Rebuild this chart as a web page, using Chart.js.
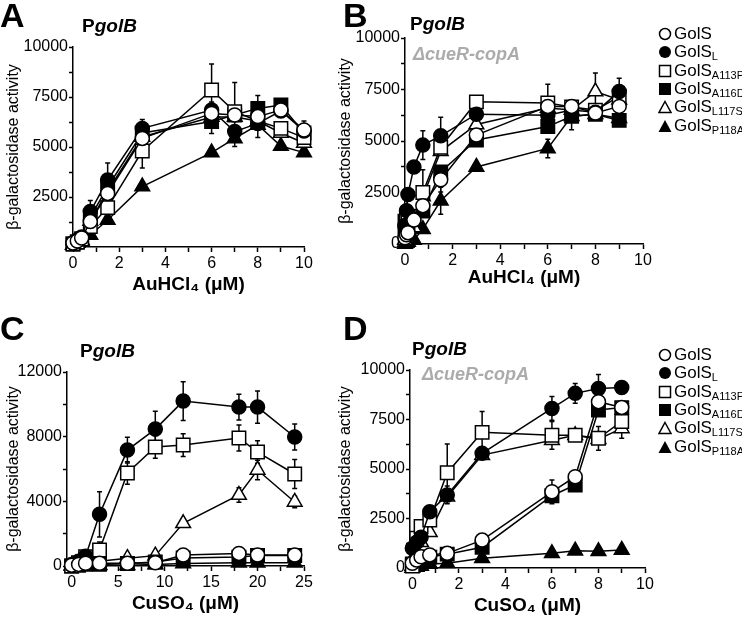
<!DOCTYPE html>
<html>
<head>
<meta charset="utf-8">
<script src="https://cdn.jsdelivr.net/npm/chart.js@4.4.1/dist/chart.umd.min.js"></script>
<style>
    body { margin: 0; background: #fff; width: 742px; height: 620px; position: relative; overflow: hidden;
        font-family: "Liberation Sans", Arial, sans-serif; color: #000; }
    canvas { position: absolute; }
    .letter { position: absolute; font-weight: bold; font-size: 34px; line-height: 1; }
    .prom { position: absolute; font-weight: bold; font-size: 19px; line-height: 1; }
    .strain { position: absolute; font-weight: bold; font-style: italic; font-size: 18px; line-height: 1; color: #ababab; }
    .row { position: absolute; left: 658px; height: 18px; line-height: 18px; font-size: 17px; white-space: nowrap; }
    .row svg { position: absolute; left: 0; top: 2px; }
    .row span { position: absolute; left: 16px; }
    .row sub { font-size: 11px; vertical-align: -3px; line-height: 0; }
</style>
</head>
<body>
<canvas id="chartA" width="330" height="300" style="left:0;top:0"></canvas>
<canvas id="chartB" width="330" height="300" style="left:332px;top:0"></canvas>
<canvas id="chartC" width="330" height="310" style="left:0;top:310px"></canvas>
<canvas id="chartD" width="330" height="310" style="left:332px;top:310px"></canvas>

<div class="letter" style="left:0;top:-2px">A</div>
<div class="letter" style="left:343px;top:-2px">B</div>
<div class="letter" style="left:0;top:311px">C</div>
<div class="letter" style="left:343px;top:311px">D</div>
<div class="prom" style="left:82px;top:16px">P<i>golB</i></div>
<div class="prom" style="left:410px;top:14px">P<i>golB</i></div>
<div class="prom" style="left:80px;top:341px">P<i>golB</i></div>
<div class="prom" style="left:412px;top:339px">P<i>golB</i></div>
<div class="strain" style="left:413px;top:45px">ΔcueR-copA</div>
<div class="strain" style="left:422px;top:365px">ΔcueR-copA</div>
<div id="legendB"></div>
<div id="legendD"></div>

<script>
// ---- data ----
const seriesNames = ['GolS', 'GolS_L', 'GolS_A113P', 'GolS_A116D', 'GolS_L117S', 'GolS_P118A'];

// tick positions (labels only on every other one)
const ticksGold = [0, 1, 2, 3, 4, 5, 6, 7, 8, 9, 10];
const ticksCopperC = [0, 2.5, 5, 7.5, 10, 12.5, 15, 17.5, 20, 22.5, 25];

// A: PgolB, AuHCl4
const xA = [0, 0.1875, 0.375, 0.75, 1.5, 3, 6, 7, 8, 9, 10];
const aGolS = [200, 300, 450, 1270, 2680, 5430, 6680, 6600, 6520, 6850, 5850];
const aGolSL = [200, 350, 500, 1770, 3350, 5930, 6850, 5770, 6180, 6800, 5800];
const aA113P = [150, 250, 400, 1020, 1970, 4800, 7850, 6770, 6300, 5930, 5470];
const aA116D = [150, 250, 400, 1500, 3000, 5700, 6270, 6600, 6930, 7100, 5700];
const aL117S = [100, 200, 350, 1300, 2800, 5500, 6500, 6500, 6300, 5700, 5200];
const aP118A = [100, 200, 300, 600, 1350, 3020, 4720, 5430, 6100, 5050, 4720];
const eaGolS = [0, 0, 0, 0, 0, 0, 0, 0, 0, 0, 450];
const eaGolSL = [0, 0, 0, 550, 850, 450, 400, 0, 700, 0, 0];
const eaA113P = [0, 0, 0, 0, 0, 850, 1300, 1450, 0, 0, 0];
const eaA116D = [0, 0, 0, 0, 0, 0, 600, 0, 650, 300, 0];
const eaL117S = [0, 0, 0, 0, 0, 0, 0, 0, 0, 0, 0];
const eaP118A = [0, 0, 0, 0, 0, 0, 0, 400, 0, 0, 0];

// B: PgolB in cueR-copA, AuHCl4
const xB = [0, 0.0625, 0.125, 0.375, 0.75, 1.5, 3, 6, 7, 8, 9];
const bGolS = [300, 450, 550, 1160, 1860, 3120, 5290, 6680, 6680, 6360, 6680];
const bGolSL = [900, 1620, 2400, 3740, 4800, 5250, 6300, 6250, 6500, 6400, 7400];
const bA113P = [1100, 1300, 1500, 2000, 2500, 4700, 6900, 6850, 6650, 6500, 7150];
const bA116D = [600, 800, 1000, 1200, 1600, 3500, 5050, 5700, 6200, 6300, 6000];
const bL117S = [200, 300, 500, 800, 2300, 4500, 5800, 6600, 6500, 7400, 7000];
const bP118A = [0, 50, 100, 200, 720, 2100, 3740, 4640, 6200, 6300, 6100];
const ebGolS = [0, 0, 0, 0, 0, 600, 0, 0, 0, 0, 0];
const ebGolSL = [0, 0, 0, 0, 700, 900, 0, 0, 500, 0, 650];
const ebA113P = [0, 0, 0, 0, 1100, 0, 0, 900, 0, 0, 0];
const ebA116D = [0, 0, 0, 0, 0, 0, 0, 0, 0, 0, 0];
const ebL117S = [0, 0, 0, 0, 0, 0, 0, 0, 0, 900, 0];
const ebP118A = [0, 0, 0, 0, 0, 650, 0, 450, 650, 0, 0];

// C: PgolB, CuSO4
const xC = [0, 0.75, 1.5, 3, 6, 9, 12, 18, 20, 24];
const cGolS = [50, 100, 170, 170, 170, 200, 680, 780, 680, 680];
const cGolSL = [100, 300, 600, 3200, 7170, 8470, 10200, 9830, 9830, 7980];
const cA113P = [0, 200, 575, 990, 5750, 7360, 7480, 7920, 7050, 5690];
const cA116D = [0, 50, 100, 100, 150, 250, 500, 550, 650, 650];
const cL117S = [50, 100, 200, 300, 480, 640, 2640, 4390, 5940, 3960];
const cP118A = [0, 0, 50, 50, 50, 100, 150, 200, 200, 200];
const ecGolS = [0, 0, 0, 0, 0, 0, 0, 0, 0, 0];
const ecGolSL = [0, 0, 0, 1400, 800, 1100, 1200, 800, 1000, 800];
const ecA113P = [0, 0, 0, 500, 700, 700, 700, 800, 700, 900];
const ecA116D = [0, 0, 0, 0, 0, 0, 0, 0, 0, 0];
const ecL117S = [0, 0, 0, 0, 0, 0, 0, 450, 600, 350];
const ecP118A = [0, 0, 0, 0, 0, 0, 0, 0, 0, 0];

// D: PgolB in cueR-copA, CuSO4
const xD = [0, 0.1875, 0.375, 0.75, 1.5, 3, 6, 7, 8, 9];
const dGolS = [240, 400, 570, 660, 740, 1410, 3850, 4610, 8400, 8110];
const dGolSL = [1000, 1300, 1550, 2840, 3690, 5790, 8060, 8820, 9070, 9120];
const dA113P = [100, 1500, 2100, 2420, 4810, 6850, 6700, 6700, 6550, 7400];
const dA116D = [200, 300, 450, 550, 700, 1050, 3650, 4190, 7980, 8100];
const dL117S = [100, 800, 1300, 1800, 3600, 5700, 6450, 6700, 6500, 7050];
const dP118A = [0, 50, 100, 200, 240, 490, 740, 875, 840, 910];
const edGolS = [0, 0, 0, 0, 0, 0, 600, 0, 0, 0];
const edGolSL = [0, 0, 0, 0, 450, 0, 600, 500, 700, 0];
const edA113P = [0, 0, 0, 0, 1450, 1050, 700, 0, 600, 500];
const edA116D = [0, 0, 0, 0, 0, 0, 0, 0, 0, 0];
const edL117S = [0, 0, 0, 0, 0, 0, 0, 0, 0, 500];
const edP118A = [0, 0, 0, 0, 0, 0, 0, 0, 0, 0];

// ---- styles ----
const markers = [
    { pointStyle: 'circle', pointRadius: 7, pointBackgroundColor: '#fff' },
    { pointStyle: 'circle', pointRadius: 7, pointBackgroundColor: '#000' },
    { pointStyle: 'rect', pointRadius: 9.5, pointBackgroundColor: '#fff' },
    { pointStyle: 'rect', pointRadius: 9.5, pointBackgroundColor: '#000' },
    { pointStyle: 'triangle', pointRadius: 8.5, pointBackgroundColor: '#fff' },
    { pointStyle: 'triangle', pointRadius: 8.5, pointBackgroundColor: '#000' },
];

Chart.defaults.font.family = '"Liberation Sans", Arial, sans-serif';
Chart.defaults.font.size = 16;
Chart.defaults.color = '#000';

// vertical error bars, drawn under the markers
const errorBars = {
    id: 'errorBars',
    beforeDatasetsDraw(chart) {
        const { ctx, scales: { x, y } } = chart;
        ctx.save();
        ctx.strokeStyle = '#000';
        ctx.lineWidth = 1.5;
        chart.data.datasets.forEach((ds) => {
            ds.data.forEach((pt, i) => {
                const e = ds.errs[i];
                if (!e) return;
                const px = x.getPixelForValue(pt.x);
                const top = y.getPixelForValue(pt.y + e);
                const bot = y.getPixelForValue(Math.max(pt.y - e, 0));
                ctx.beginPath();
                ctx.moveTo(px, top);
                ctx.lineTo(px, bot);
                ctx.moveTo(px - 2.5, top);
                ctx.lineTo(px + 2.5, top);
                ctx.moveTo(px - 2.5, bot);
                ctx.lineTo(px + 2.5, bot);
                ctx.stroke();
            });
        });
        ctx.restore();
    },
};

function makeChart(id, p) {
    const datasets = p.ys.map((ys, k) => ({
        label: seriesNames[k],
        data: p.xs.map((x, i) => ({ x, y: ys[i] })),
        errs: p.errs[k],
        borderColor: '#000',
        borderWidth: 1.5,
        pointBorderColor: '#000',
        pointBorderWidth: 1.5,
        tension: 0,
        clip: false,
        ...markers[k],
    }));
    new Chart(document.getElementById(id), {
        type: 'line',
        data: { datasets },
        options: {
            responsive: false,
            animation: false,
            events: [],
            layout: { padding: { top: p.padTop, right: p.padRight, bottom: 0, left: 0 } },
            plugins: { legend: { display: false }, tooltip: { enabled: false } },
            scales: {
                x: {
                    type: 'linear',
                    min: p.xMin,
                    max: p.xMax,
                    grid: { drawOnChartArea: false, tickLength: 5, tickColor: '#000', tickWidth: 1.5 },
                    border: { color: '#000', width: 1.5 },
                    afterBuildTicks: (s) => { s.ticks = p.xTicks.map((value) => ({ value })); },
                    ticks: {
                        autoSkip: false,
                        maxRotation: 0,
                        padding: 2,
                        callback: (v) => (v % p.xLabelStep === 0 ? String(v) : ''),
                    },
                    title: {
                        display: true,
                        text: p.xTitle,
                        font: { size: 19, weight: 'bold' },
                        padding: { top: 0, bottom: p.xTitlePad },
                    },
                    afterFit: (s) => { s.height = p.xh; },
                },
                y: {
                    min: 0,
                    max: p.yMax,
                    grid: { drawOnChartArea: false, tickLength: 4, tickColor: '#000', tickWidth: 1.5 },
                    border: { color: '#000', width: 1.5 },
                    ticks: {
                        stepSize: p.yStep,
                        autoSkip: false,
                        padding: 1,
                        callback: (v) => {
                            if (v === 0 && p.hideZero) return '';
                            return v % p.yLabelStep === 0 ? String(v) : '';
                        },
                    },
                    title: {
                        display: true,
                        text: 'β-galactosidase activity',
                        font: { size: 16 },
                        padding: { top: 4, bottom: 0 },
                    },
                    afterFit: (s) => { s.width = p.yw; },
                },
            },
        },
        plugins: [errorBars],
    });
}

makeChart('chartA', {
    xs: xA,
    ys: [aGolS, aGolSL, aA113P, aA116D, aL117S, aP118A],
    errs: [eaGolS, eaGolSL, eaA113P, eaA116D, eaL117S, eaP118A],
    xMin: 0, xMax: 10, xTicks: ticksGold, xLabelStep: 2,
    yMax: 10000, yStep: 1250, yLabelStep: 2500, hideZero: true,
    xTitle: 'AuHCl₄ (μM)',
    padTop: 47, padRight: 26, yw: 73, xh: 53, xTitlePad: 4,
});

makeChart('chartB', {
    xs: xB,
    ys: [bGolS, bGolSL, bA113P, bA116D, bL117S, bP118A],
    errs: [ebGolS, ebGolSL, ebA113P, ebA116D, ebL117S, ebP118A],
    xMin: 0, xMax: 10, xTicks: ticksGold, xLabelStep: 2,
    yMax: 10000, yStep: 1250, yLabelStep: 2500, hideZero: false,
    xTitle: 'AuHCl₄ (μM)',
    padTop: 38, padRight: 19, yw: 73, xh: 56, xTitlePad: 11,
});

makeChart('chartC', {
    xs: xC,
    ys: [cGolS, cGolSL, cA113P, cA116D, cL117S, cP118A],
    errs: [ecGolS, ecGolSL, ecA113P, ecA116D, ecL117S, ecP118A],
    xMin: -0.5, xMax: 25, xTicks: ticksCopperC, xLabelStep: 5,
    yMax: 12000, yStep: 2000, yLabelStep: 4000, hideZero: false,
    xTitle: 'CuSO₄ (μM)',
    padTop: 62, padRight: 26, yw: 67, xh: 54, xTitlePad: 5,
});

makeChart('chartD', {
    xs: xD,
    ys: [dGolS, dGolSL, dA113P, dA116D, dL117S, dP118A],
    errs: [edGolS, edGolSL, edA113P, edA116D, edL117S, edP118A],
    xMin: -0.1, xMax: 10, xTicks: ticksGold, xLabelStep: 2,
    yMax: 10000, yStep: 1250, yLabelStep: 2500, hideZero: false,
    xTitle: 'CuSO₄ (μM)',
    padTop: 60, padRight: 17, yw: 78, xh: 52, xTitlePad: 3,
});

// ---- legends (HTML, for the subscripts) ----
const legendSymbols = [
    '<circle cx="7" cy="7" r="5.5" fill="#fff" stroke="#000" stroke-width="1.5"/>',
    '<circle cx="7" cy="7" r="6" fill="#000"/>',
    '<rect x="1.5" y="1.5" width="11" height="11" fill="#fff" stroke="#000" stroke-width="1.5"/>',
    '<rect x="1" y="1" width="12" height="12" fill="#000"/>',
    '<polygon points="7,1.5 13,12.5 1,12.5" fill="#fff" stroke="#000" stroke-width="1.5"/>',
    '<polygon points="7,1 13.5,13 0.5,13" fill="#000"/>',
];

function buildLegend(id, firstRow) {
    const box = document.getElementById(id);
    seriesNames.forEach((name, k) => {
        const [main, sub] = name.split('_');
        const row = document.createElement('div');
        row.className = 'row';
        row.style.top = (firstRow + k * 18.3 - 9) + 'px';
        row.innerHTML = '<svg width="14" height="14">' + legendSymbols[k] + '</svg>'
            + '<span>' + main + (sub ? '<sub>' + sub + '</sub>' : '') + '</span>';
        box.appendChild(row);
    });
}
buildLegend('legendB', 34);
buildLegend('legendD', 355);
</script>
</body>
</html>
